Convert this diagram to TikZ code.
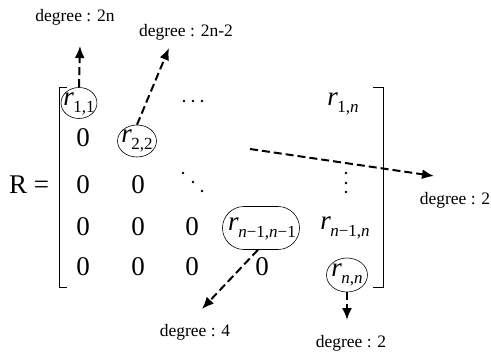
\documentclass[tikz,border=0pt]{standalone}
\usepackage{fontspec}
\setmainfont{Liberation Serif}
\usetikzlibrary{arrows.meta,shapes.misc,shapes.geometric}
\newcommand\rsub[1]{\textit{r}\kern-0.5pt\raisebox{-0.55ex}{\fontsize{17}{17}\selectfont #1}}
\newcommand\nn{\textit{n}}
\tikzset{
  entry/.style={inner sep=0pt,font=\fontsize{27}{30}\selectfont},
  circ/.style={draw,ellipse,inner sep=0pt,line width=0.6pt},
  rbox/.style={draw,rounded rectangle,inner sep=1pt,minimum height=43pt,minimum width=79pt,line width=0.6pt},
  lbl/.style={inner sep=0pt,font=\fontsize{17.5}{19}\selectfont},
  darr/.style={dashed,dash pattern=on 8pt off 4pt,line width=2pt,-{Latex[length=12pt,width=10pt]}},
  brk/.style={line width=0.7pt},
  dotm/.style={fill=black}
}
\begin{document}
\begin{tikzpicture}[x=1pt,y=-1pt]
\useasboundingbox (0,0) rectangle (491,353);
% brackets
\draw[brk] (67,87) -- (59,87) -- (59,287) -- (67,287);
\draw[brk] (373,87) -- (383,87) -- (383,287) -- (373,287);
\node[entry] (R) at (29,185) {R =};
% row 1
\node[circ,minimum width=36pt,minimum height=31pt] (c11) at (79,103) {};
\node[entry] (r11) at (79,104) {\rsub{1,1}};
\node[entry] (r1n) at (343,104) {\rsub{1,\nn}};
% dots
\foreach \p in {(184,101),(193,101),(202,101),(183,173),(193,182),(202,191),(346,173),(346,183),(346,192)}
  \fill[dotm] \p circle (1.4pt);
% row 2
\node[entry] (z21) at (83,138) {0};
\node[circ,minimum width=39pt,minimum height=32pt] (c22) at (137,141) {};
\node[entry] (r22) at (137,141) {\rsub{2,2}};
% row 3
\node[entry] (z31) at (83,185) {0};
\node[entry] (z32) at (138,185) {0};
% row 4
\node[entry] (z41) at (83,227) {0};
\node[entry] (z42) at (138,227) {0};
\node[entry] (z43) at (192,227) {0};
\node[rbox] (cnn1) at (261,228) {};
\node[entry] (rnn1) at (262,229) {\rsub{\nn−1,\nn−1}};
\node[entry] (rn1n) at (345,228) {\rsub{\nn−1,\nn}};
% row 5
\node[entry] (z51) at (83,267) {0};
\node[entry] (z52) at (138,267) {0};
\node[entry] (z53) at (192,267) {0};
\node[entry] (z54) at (262,267) {0};
\node[circ,minimum width=41pt,minimum height=34pt] (cnn) at (347,275) {};
\node[entry] (rnn) at (347,275) {\rsub{\nn,\nn}};
% labels
\node[lbl] (l1) at (75,17) {degree : 2n};
\node[lbl] (l2) at (186,32) {degree : 2n-2};
\node[lbl] (l3) at (455,200) {degree : 2};
\node[lbl] (l4) at (195,332) {degree : 4};
\node[lbl] (l5) at (351,343) {degree : 2};
% arrow ends
\coordinate (a1) at (80,46);
\coordinate (a2) at (169,48);
\coordinate (h0) at (250,149);
\coordinate (a3) at (434,176);
\coordinate (a4) at (202,309);
\coordinate (a5) at (347,320);
\draw[darr] (c11.north) -- (a1);
\draw[darr] (c22.north) -- (a2);
\draw[darr] (h0) -- (a3);
\draw[darr] (cnn1.south west) ++(14,0) -- (a4);
\draw[darr] (cnn.south) -- (a5);
\end{tikzpicture}
\end{document}
